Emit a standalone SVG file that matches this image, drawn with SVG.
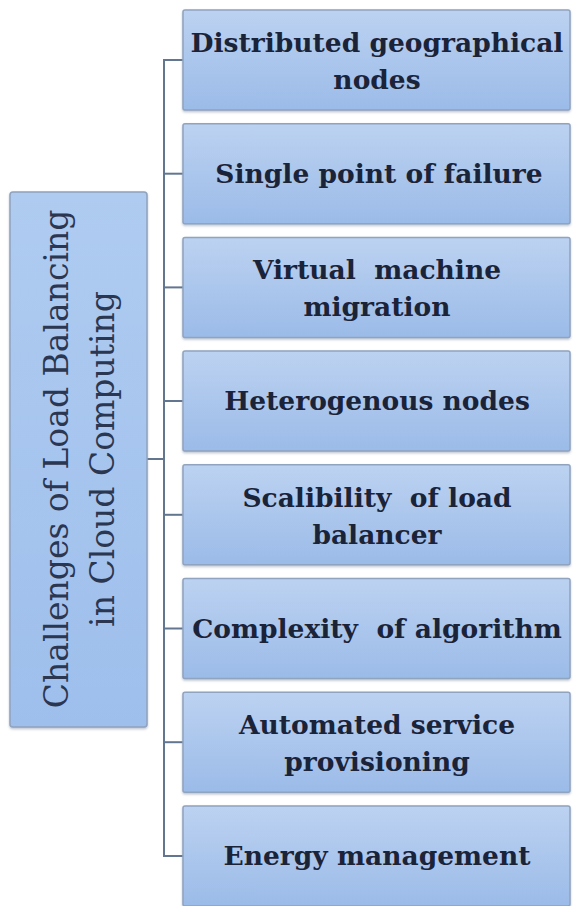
<svg xmlns="http://www.w3.org/2000/svg" width="574" height="906" viewBox="0 0 574 906">
  <defs>
    <linearGradient id="boxFill" x1="0" y1="0" x2="0" y2="1">
      <stop offset="0" stop-color="#bcd2f1"/>
      <stop offset="1" stop-color="#9bbbe8"/>
    </linearGradient>
    <linearGradient id="rootFill" x1="0" y1="0" x2="0" y2="1">
      <stop offset="0" stop-color="#afcbf0"/>
      <stop offset="1" stop-color="#9ebfec"/>
    </linearGradient>
    <filter id="shadow" x="-5%" y="-5%" width="110%" height="115%">
      <feDropShadow dx="0" dy="1.5" stdDeviation="1.2" flood-color="#6d7f99" flood-opacity="0.45"/>
    </filter>
  </defs>
  <style>
    .box { fill: url(#boxFill); stroke: #90a3bf; stroke-width: 1.5; filter: url(#shadow); }
    .root { fill: url(#rootFill); stroke: #90a3bf; stroke-width: 1.5; filter: url(#shadow); }
    .label { font-family: 'DejaVu Serif', 'Liberation Serif', serif; font-weight: bold; font-size: 26.5px; fill: #1b2338; text-anchor: middle; white-space: pre; }
    .rootlabel { font-family: 'DejaVu Serif', 'Liberation Serif', serif; font-size: 33px; fill: #2b3650; text-anchor: middle; }
    .wire { fill: none; stroke: #62768f; stroke-width: 2; }
  </style>

  <rect width="574" height="906" fill="#ffffff"/>

  <!-- tree connectors -->
  <g id="connectors">
    <path class="wire" d="M147,459 H164"/>
    <path class="wire" d="M183,60 H164 V856 H183"/>
    <path class="wire" d="M164,173.7 H183"/>
    <path class="wire" d="M164,287.4 H183"/>
    <path class="wire" d="M164,401 H183"/>
    <path class="wire" d="M164,514.8 H183"/>
    <path class="wire" d="M164,628.5 H183"/>
    <path class="wire" d="M164,742.2 H183"/>
  </g>

  <!-- root topic, set vertically -->
  <g id="root">
    <rect class="root" x="10" y="192" width="137" height="535" rx="3"/>
    <text class="rootlabel" transform="translate(68,459) rotate(-90)">Challenges of Load Balancing</text>
    <text class="rootlabel" transform="translate(114,459) rotate(-90)">in Cloud Computing</text>
  </g>

  <g id="n1">
    <rect class="box" x="183" y="10" width="387" height="100" rx="2"/>
    <text class="label" x="377" y="52">Distributed geographical</text>
    <text class="label" x="377" y="89">nodes</text>
  </g>
  <g id="n2">
    <rect class="box" x="183" y="123.7" width="387" height="100" rx="2"/>
    <text class="label" x="379" y="183">Single point of failure</text>
  </g>
  <g id="n3">
    <rect class="box" x="183" y="237.4" width="387" height="100" rx="2"/>
    <text class="label" x="377" y="279">Virtual  machine</text>
    <text class="label" x="377" y="316">migration</text>
  </g>
  <g id="n4">
    <rect class="box" x="183" y="351" width="387" height="100" rx="2"/>
    <text class="label" x="377" y="410">Heterogenous nodes</text>
  </g>
  <g id="n5">
    <rect class="box" x="183" y="464.8" width="387" height="100" rx="2"/>
    <text class="label" x="377" y="507">Scalibility  of load</text>
    <text class="label" x="377" y="544">balancer</text>
  </g>
  <g id="n6">
    <rect class="box" x="183" y="578.5" width="387" height="100" rx="2"/>
    <text class="label" x="377" y="638">Complexity  of algorithm</text>
  </g>
  <g id="n7">
    <rect class="box" x="183" y="692.2" width="387" height="100" rx="2"/>
    <text class="label" x="377" y="734">Automated service</text>
    <text class="label" x="377" y="771">provisioning</text>
  </g>
  <g id="n8">
    <rect class="box" x="183" y="806" width="387" height="100" rx="2"/>
    <text class="label" x="377" y="865">Energy management</text>
  </g>
</svg>
